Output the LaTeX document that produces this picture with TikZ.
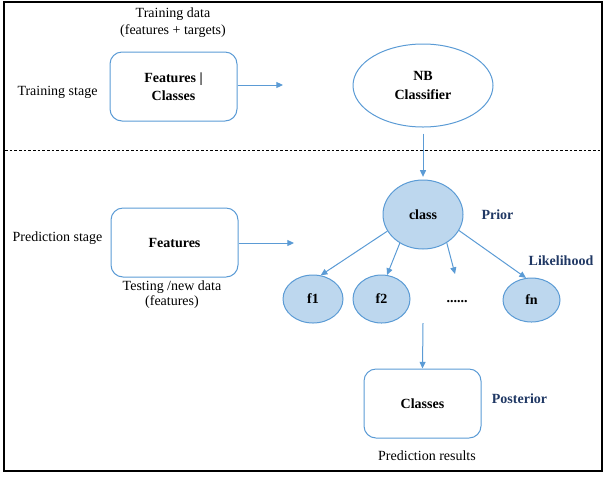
\documentclass[tikz,border=0pt]{standalone}
\usepackage{fontspec}
\setmainfont{Liberation Serif}
\usetikzlibrary{arrows.meta,shapes.geometric}
\definecolor{lblue}{HTML}{5B9BD5}
\definecolor{fblue}{HTML}{BDD7EE}
\definecolor{navy}{HTML}{203864}
\tikzset{
  rbox/.style={draw=lblue,line width=0.75pt,rounded corners=9pt,align=center,font=\bfseries\fontsize{10.5}{13.5}\selectfont,inner sep=0pt},
  oval/.style={ellipse,draw=lblue,line width=0.75pt,align=center,font=\bfseries\fontsize{10.5}{14}\selectfont,inner sep=0pt},
  foval/.style={oval,fill=fblue},
  lbl/.style={align=center,font=\fontsize{10.5}{12.75}\selectfont,inner sep=0pt},
  nlbl/.style={font=\bfseries\fontsize{10.5}{12}\selectfont,text=navy,inner sep=0pt},
  arr/.style={draw=lblue,line width=0.75pt,-{Triangle[length=5pt,width=4.5pt]}},
}
\begin{document}
\begin{tikzpicture}[x=0.75pt,y=-0.75pt]
\useasboundingbox (0,0) rectangle (606,476);
\draw[line width=1.6pt] (4,2) rectangle (602,471);
\draw[line width=0.6pt,dash pattern=on 2pt off 1.5pt] (5,150) -- (601,150);

% training stage
\node[lbl] (tdata) at (173,22.5) {Training data\\(features + targets)};
\node[lbl] (tstage) at (57.5,92) {Training stage};
\node[rbox,minimum width=95.25pt,minimum height=51.75pt] (fc) at (173.5,86.5) {Features |\\Classes};
\coordinate (fcend) at (283,85);
\draw[arr] (fc.east |- fcend) -- (fcend);
\node[oval,minimum width=105pt,minimum height=62.25pt] (nb) at (423,85.5) {NB\\Classifier};

% prediction stage
\node[lbl] (pstage) at (57.5,238) {Prediction stage};
\node[rbox,minimum width=95.25pt,minimum height=51.75pt] (feat) at (174.5,242.5) {Features};
\node[lbl,font=\fontsize{10.5}{11.5}\selectfont] (test) at (172,294.5) {Testing /new data\\(features)};
\coordinate (featend) at (294,243);
\draw[arr] (feat.east |- featend) -- (featend);

\node[foval,minimum width=60pt,minimum height=51.75pt] (class) at (423,214.5) {class};
\draw[arr,shorten <=4.5pt,shorten >=2pt] (nb.south) -- (class.north);
\node[nlbl] (prior) at (497.5,215) {Prior};
\node[nlbl] (lik) at (561,261) {Likelihood};

\node[foval,minimum width=45pt,minimum height=36pt] (f1) at (313,299) {f1};
\node[foval,minimum width=42.75pt,minimum height=36pt] (f2) at (381.5,299) {f2};
\node[font=\bfseries\fontsize{10.5}{12}\selectfont,inner sep=0pt] (dots) at (457,302) {......};
\node[foval,minimum width=42.75pt,minimum height=33pt] (fn) at (531.5,300) {fn};

\coordinate (dotsarr) at (455,274);
\draw[arr] (class.205) -- (f1.72);
\draw[arr] (class.231) -- (f2.77);
\draw[arr] (class.310) -- (dotsarr);
\draw[arr] (class.336) -- (fn.104);

\coordinate (fbot) at (423,323);
\node[rbox,minimum width=87.75pt,minimum height=51.75pt] (cls) at (422.5,403.5) {Classes};
\draw[arr] (fbot) -- (cls.north);
\node[nlbl] (post) at (519.5,399) {Posterior};
\node[lbl] (pres) at (427,456) {Prediction results};
\end{tikzpicture}
\end{document}
